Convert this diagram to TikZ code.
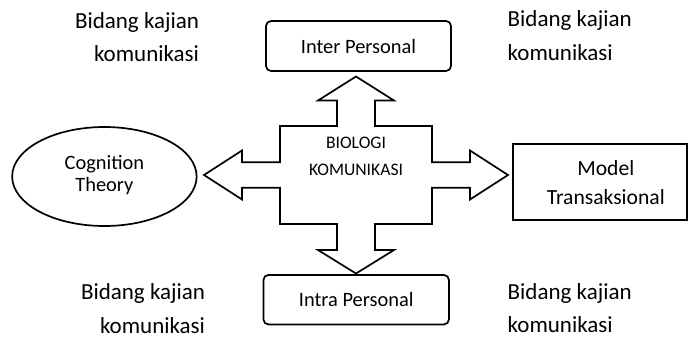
\documentclass[tikz,border=0pt]{standalone}
\usepackage{fontspec}
\setmainfont{Carlito}
\usetikzlibrary{shapes.geometric}
\begin{document}
\begin{tikzpicture}[x=1pt,y=-1pt,
  every node/.style={inner sep=0pt, outer sep=0pt},
  shapeline/.style={draw=black, line width=1.7pt},
  sidetxt/.style={font=\fontsize{23}{27}\selectfont},
  boxtxt/.style={font=\fontsize{20.4}{24}\selectfont},
  midtxt/.style={font=\fontsize{17.6}{21}\selectfont},
  modtxt/.style={font=\fontsize{21.6}{26}\selectfont}]
\useasboundingbox (0,0) rectangle (688,338);

% shapes
\node[shapeline, rounded corners=5pt, minimum width=185pt, minimum height=50pt] (inter) at (358.5,46) {};
\node[shapeline, rounded corners=5pt, minimum width=185.5pt, minimum height=49.5pt] (intra) at (356.2,299.7) {};
\node[shapeline, minimum width=174pt, minimum height=76pt] (model) at (599.8,182) {};
\node[shapeline, ellipse, minimum width=184.5pt, minimum height=99pt] (cog) at (104.4,176.5) {};

% quad arrow
\coordinate (c) at (356,175);
\draw[line width=1.7pt, line join=miter, shift={(c)}]
  (0,-98.5) -- (38,-74.5) -- (19,-74.5) -- (19,-49) -- (76,-49) -- (76,-12.8)
  -- (114,-12.8) -- (114,-24.5) -- (152,0) -- (114,24.5) -- (114,12.8) -- (76,12.8)
  -- (76,49) -- (19,49) -- (19,75) -- (38,75) -- (0,98.5) -- (-38,75) -- (-19,75)
  -- (-19,49) -- (-76,49) -- (-76,12.8) -- (-114,12.8) -- (-114,24.5) -- (-152,0)
  -- (-114,-24.5) -- (-114,-12.8) -- (-76,-12.8) -- (-76,-49) -- (-19,-49)
  -- (-19,-74.5) -- (-38,-74.5) -- cycle;

% texts
\node[midtxt, anchor=base] (bio1) at (356,148.3) {BIOLOGI};
\node[midtxt, anchor=base] (bio2) at (356,175) {KOMUNIKASI};
\node[boxtxt, anchor=base] (intert) at (358.5,53.3) {Inter Personal};
\node[boxtxt, anchor=base] (intrat) at (356.2,306.7) {Intra Personal};
\node[boxtxt, anchor=base] (cog1) at (104.4,169.3) {Cognition};
\node[boxtxt, anchor=base] (cog2) at (104.4,191.7) {Theory};
\node[modtxt, anchor=base] (mod1) at (605.8,175.7) {Model};
\node[modtxt, anchor=base] (mod2) at (605.8,204) {Transaksional};

\node[sidetxt, anchor=base east] (tl1) at (199,28.3) {Bidang kajian};
\node[sidetxt, anchor=base east] (tl2) at (199,61.7) {komunikasi};
\node[sidetxt, anchor=base west] (tr1) at (507.7,26.7) {Bidang kajian};
\node[sidetxt, anchor=base west] (tr2) at (507.7,60) {komunikasi};
\node[sidetxt, anchor=base east] (bl1) at (205,299.3) {Bidang kajian};
\node[sidetxt, anchor=base east] (bl2) at (205,333.3) {komunikasi};
\node[sidetxt, anchor=base west] (br1) at (507.7,299.3) {Bidang kajian};
\node[sidetxt, anchor=base west] (br2) at (507.7,332.7) {komunikasi};
\end{tikzpicture}
\end{document}
